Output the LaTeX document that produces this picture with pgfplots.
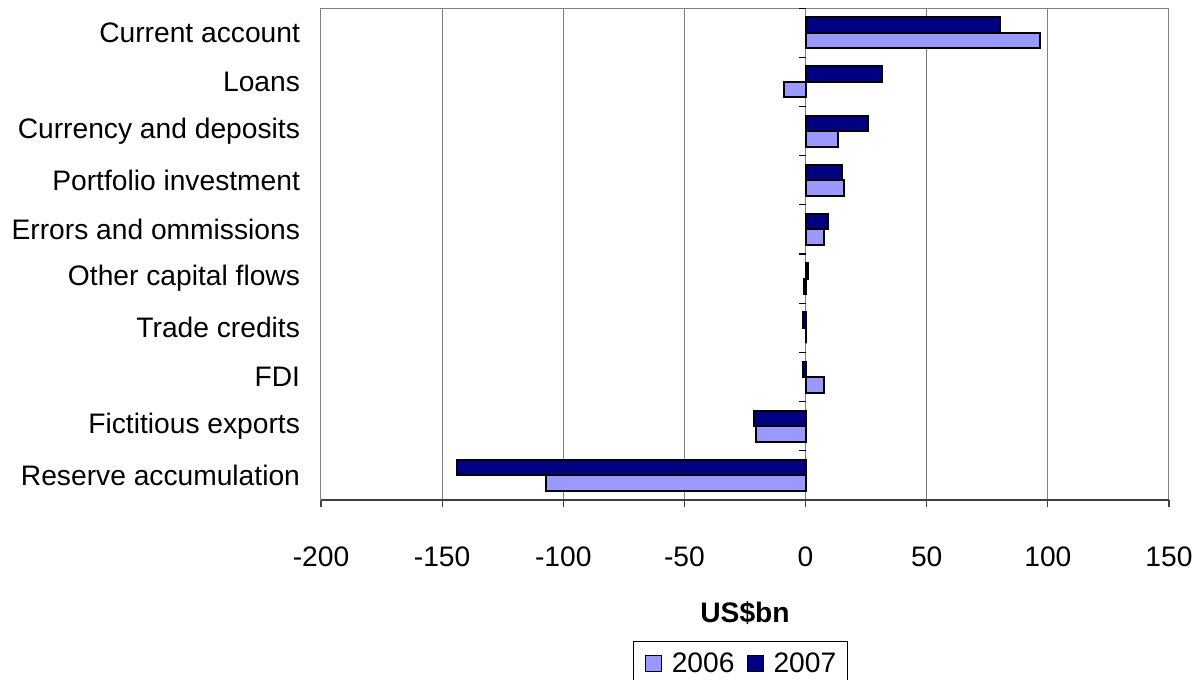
\documentclass[border=0pt]{standalone}
\usepackage{fontspec}
\setmainfont{Liberation Sans}
\usepackage{pgfplots}
\pgfplotsset{compat=1.18}
\definecolor{c2006}{HTML}{9999FF}
\definecolor{c2007}{HTML}{000080}
\definecolor{gridgray}{HTML}{808080}
\newcommand{\chartfont}{\fontsize{14.1bp}{17bp}\selectfont}

\begin{document}
\begin{tikzpicture}
\path[use as bounding box] (-160.5bp,-90bp) rectangle (438.5bp,250bp);
\begin{axis}[
  at={(0,0)}, anchor=south west,
  scale only axis, width=424bp, height=246bp,
  xmin=-200, xmax=150,
  ymin=-0.5, ymax=9.5,
  xtick={-200,-150,-100,-50,0,50,100,150},
  xticklabels={-200,-150,-100,-50,0,50,100,150},
  ytick={0,...,9},
  yticklabels={Reserve accumulation, Fictitious exports, FDI, Trade credits,
    Other capital flows, Errors and ommissions, Portfolio investment,
    Currency and deposits, Loans, Current account},
  tick label style={font=\chartfont},
  xtick pos=bottom,
  tick align=outside,
  major tick length=3.5bp,
  xtick style={draw=black!75, line width=0.6bp},
  ytick style={draw=none},
  xticklabel style={yshift=-16.5bp},
  yticklabel style={xshift=-3.5bp},
  xmajorgrids,
  major grid style={draw=gridgray, line width=0.5bp},
  axis line style={draw=gridgray, line width=0.5bp},
  xlabel={\textbf{US\$bn}},
  xlabel style={at={(axis description cs:0.5,-0.2297)}, anchor=center, font=\chartfont},
  legend style={at={(axis description cs:0.4947,-0.2866)}, anchor=north,
    legend columns=2, draw=black, line width=0.5bp, font=\chartfont,
    inner xsep=5.5bp, inner ysep=5.5bp, nodes={inner sep=0pt},
    /tikz/every odd column/.append style={column sep=5bp},
    /tikz/every even column/.append style={column sep=6bp}},
  legend image code/.code={\draw[#1,line width=0.5bp] (0bp,-4bp) rectangle (8bp,4bp);},
]
% zero axis with category separators
\draw[draw=gridgray, line width=0.8bp] (axis cs:0,-0.5) -- (axis cs:0,9.5);
\pgfplotsinvokeforeach{-0.5,0.5,...,9.5}{
  \draw[black, line width=0.6bp] (axis cs:0,#1) -- ([xshift=-3.5bp]axis cs:0,#1);
}
\addplot[xbar, bar width=7.75bp, bar shift=-3.875bp, fill=c2006, draw=black, line width=1bp]
  coordinates {(-107,0) (-20.6,1) (7.5,2) (0,3) (-0.8,4) (7.5,5) (15.9,6) (13.3,7) (-8.9,8) (96.8,9)};
\addplot[xbar, bar width=7.75bp, bar shift=3.875bp, fill=c2007, draw=black, line width=1bp]
  coordinates {(-143.7,0) (-21.3,1) (-1,2) (-1,3) (1.2,4) (9.4,5) (15.1,6) (25.9,7) (31.6,8) (80.4,9)};
\legend{2006,2007}
% bottom axis line
\draw[draw=black!75, line width=0.8bp] (rel axis cs:0,0) -- (rel axis cs:1,0);
\end{axis}
\end{tikzpicture}
\end{document}
